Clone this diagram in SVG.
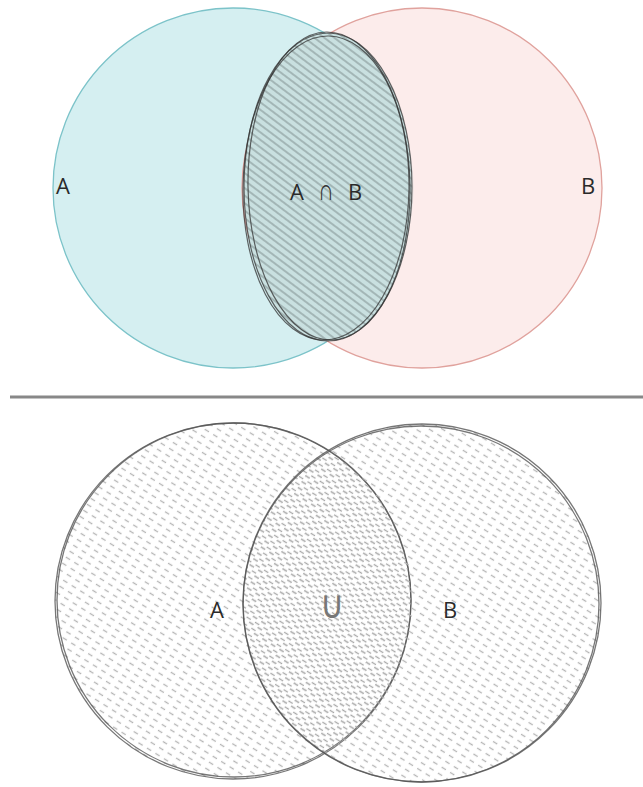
<svg xmlns="http://www.w3.org/2000/svg" width="643" height="787" viewBox="0 0 643 787">
<style>
.lbl{font-family:"Open Sans","Liberation Sans",sans-serif;font-size:22px;fill:#2a2a2a;}
.sym{font-family:"DejaVu Sans ExtraLight","DejaVu Sans","Liberation Sans",sans-serif;font-weight:200;}
.sk{fill:none;stroke:#333;stroke-width:1.2;opacity:0.75}
.bk{fill:none;stroke:#555;stroke-width:1.3;opacity:0.8}
</style>
<defs>
<pattern id="hatch" width="6" height="6" patternUnits="userSpaceOnUse" patternTransform="rotate(37)">
<line x1="0" y1="3" x2="6" y2="3" stroke="#8a9a9a" stroke-width="1.2"/>
</pattern>
<pattern id="dash" width="7" height="10" patternUnits="userSpaceOnUse" patternTransform="rotate(-58)">
<line x1="3.5" y1="1" x2="3.5" y2="6" stroke="#b5b5b5" stroke-width="1.3"/>
</pattern>
<pattern id="dash2" width="7" height="10" patternUnits="userSpaceOnUse" patternTransform="rotate(-58) translate(3 5)">
<line x1="3.5" y1="1" x2="3.5" y2="6" stroke="#a8a8a8" stroke-width="1.3"/>
</pattern>
<clipPath id="clipA2"><circle cx="233" cy="601" r="178"/></clipPath>
</defs>
<g id="circleA">
<circle cx="233" cy="188" r="180" fill="#d5eff1" stroke="#7cc3c9" stroke-width="1.3"/>
</g>
<g id="circleB">
<circle cx="422" cy="188" r="180" fill="#fce9e8" fill-opacity="0.85" stroke="#e0a29d" stroke-width="1.3"/>
</g>
<g id="intersection">
<ellipse cx="328" cy="187" rx="84" ry="154" fill="#c9e0e0"/>
<ellipse cx="328" cy="187" rx="84" ry="154" fill="url(#hatch)"/>
<ellipse class="sk" cx="328" cy="187" rx="84" ry="154"/>
<ellipse class="sk" cx="326" cy="188" rx="83" ry="152" transform="rotate(1 326 188)"/>
<ellipse class="sk" cx="329" cy="186" rx="81" ry="154" transform="rotate(-1 329 186)"/>
</g>
<text class="lbl" x="56" y="194">A</text>
<text class="lbl" x="581" y="194">B</text>
<text class="lbl" x="290" y="200">A</text>
<text class="sym" x="0" y="0" font-size="22" fill="#333" text-anchor="middle" transform="translate(326 200) scale(1 1.35)">∩</text>
<text class="lbl" x="348" y="200">B</text>
<g id="divider">
<line x1="10" y1="397" x2="643" y2="397" stroke="#888" stroke-width="3"/>
</g>
<g id="unionA">
<circle cx="233" cy="601" r="178" fill="url(#dash)"/>
<circle class="bk" cx="233" cy="601" r="178"/>
<circle class="bk" cx="234" cy="600" r="177"/>
</g>
<g id="unionB">
<circle cx="422" cy="603" r="179" fill="url(#dash)"/>
<circle cx="422" cy="603" r="179" fill="url(#dash2)" clip-path="url(#clipA2)"/>
<circle class="bk" cx="422" cy="603" r="179"/>
<circle class="bk" cx="421" cy="604" r="178"/>
</g>
<text class="lbl" x="217" y="618" text-anchor="middle">A</text>
<text class="sym" x="0" y="0" font-size="30" fill="#777" text-anchor="middle" transform="translate(332 618) scale(1.1 1.3)">∪</text>
<text class="lbl" x="450" y="618" text-anchor="middle">B</text>
</svg>
